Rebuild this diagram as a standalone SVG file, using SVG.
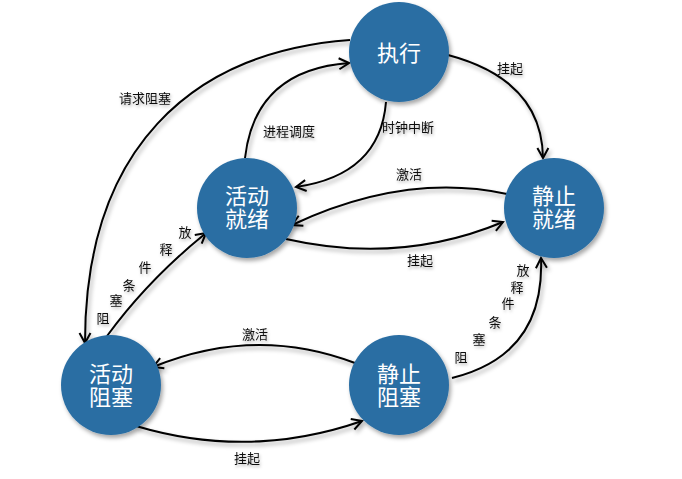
<svg xmlns="http://www.w3.org/2000/svg" width="682" height="479" viewBox="0 0 682 479">
<style>
.node circle{fill:#2a6ea3;filter:url(#sh)}
.node text{fill:#ffffff;font-family:"Noto Sans CJK SC","Liberation Sans",sans-serif;font-size:22px;text-anchor:middle}
.edge{fill:none;stroke:#000;stroke-width:2;marker-end:url(#arr)}
.lbl{fill:#111;font-family:"Noto Sans CJK SC","Liberation Sans",sans-serif;font-size:13px;text-anchor:middle;filter:url(#tsh)}
#edges{filter:url(#sh)}
</style>
<defs>
<filter id="sh" x="-20%" y="-20%" width="140%" height="140%">
<feDropShadow dx="2" dy="3" stdDeviation="2" flood-color="#000" flood-opacity="0.35"/>
</filter>
<filter id="tsh" x="-20%" y="-30%" width="140%" height="160%">
<feDropShadow dx="1" dy="2" stdDeviation="1.5" flood-color="#000" flood-opacity="0.3"/>
</filter>
<marker id="arr" viewBox="-11 -7 13 14" refX="0" refY="0" markerWidth="13" markerHeight="14" markerUnits="userSpaceOnUse" orient="auto">
<path d="M-10,-5.5 L0,0 L-10,5.5" fill="none" stroke="#000" stroke-width="2" stroke-linejoin="miter"/>
</marker>
</defs>
<rect width="682" height="479" fill="#ffffff"/>
<g id="edges">
<path class="edge" d="M448,55 Q542,80 543,158"/>
<path class="edge" d="M386,102 Q380,175 296,187"/>
<path class="edge" d="M245,158 Q255,70 349,63"/>
<path class="edge" d="M350,40 C190,52 85,150 85,343"/>
<path class="edge" d="M107,336 Q148,280 206,233"/>
<path class="edge" d="M452,378 Q545,355 541,258"/>
<path class="edge" d="M507,194 Q405,172 292,225"/>
<path class="edge" d="M286,239 Q400,265 503,222"/>
<path class="edge" d="M355,363 Q255,325 153,367"/>
<path class="edge" d="M136,426 Q250,460 362,421"/>
</g>
<g id="labels">
<text class="lbl" x="510" y="73">挂起</text>
<text class="lbl" x="408" y="132">时钟中断</text>
<text class="lbl" x="289" y="136">进程调度</text>
<text class="lbl" x="145" y="103">请求阻塞</text>
<text class="lbl" x="409" y="179">激活</text>
<text class="lbl" x="420" y="265">挂起</text>
<text class="lbl" x="255" y="339">激活</text>
<text class="lbl" x="247" y="463">挂起</text>
<text class="lbl" x="185" y="237">放</text>
<text class="lbl" x="166" y="254">释</text>
<text class="lbl" x="145" y="272">件</text>
<text class="lbl" x="129" y="290">条</text>
<text class="lbl" x="116" y="305">塞</text>
<text class="lbl" x="103" y="323">阻</text>
<text class="lbl" x="523" y="275">放</text>
<text class="lbl" x="517" y="292">释</text>
<text class="lbl" x="508" y="308">件</text>
<text class="lbl" x="495" y="327">条</text>
<text class="lbl" x="479" y="344">塞</text>
<text class="lbl" x="461" y="362">阻</text>
</g>
<g id="node-exec" class="node">
<circle cx="399" cy="52" r="50"/>
<text x="399" y="61">执行</text>
</g>
<g id="node-active-ready" class="node">
<circle cx="247" cy="208" r="50"/>
<text x="247" y="204">活动<tspan x="247" dy="23">就绪</tspan></text>
</g>
<g id="node-static-ready" class="node">
<circle cx="554" cy="208" r="50"/>
<text x="554" y="204">静止<tspan x="554" dy="23">就绪</tspan></text>
</g>
<g id="node-active-blocked" class="node">
<circle cx="111" cy="385" r="50"/>
<text x="111" y="382">活动<tspan x="111" dy="23">阻塞</tspan></text>
</g>
<g id="node-static-blocked" class="node">
<circle cx="399" cy="385" r="50"/>
<text x="399" y="382">静止<tspan x="399" dy="23">阻塞</tspan></text>
</g>
</svg>
